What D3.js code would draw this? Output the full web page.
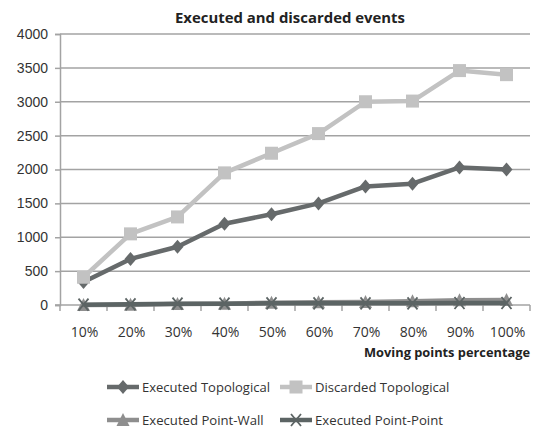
<!DOCTYPE html>
<html>
<head>
<meta charset="utf-8">
<script src="https://cdn.jsdelivr.net/npm/d3@7"></script>
<style>
  body { margin: 0; background: #fff; }
  svg { display: block; font-family: "Open Sans", sans-serif; }
</style>
</head>
<body>
<svg id="chart" width="539" height="428"></svg>
<script>
// data
const categories = ["10%", "20%", "30%", "40%", "50%", "60%", "70%", "80%", "90%", "100%"];
const executedTopological = [340, 680, 860, 1200, 1340, 1500, 1750, 1790, 2030, 2000];
const discardedTopological = [410, 1050, 1300, 1950, 2240, 2530, 3000, 3010, 3460, 3400];
const executedPointWall = [0, 5, 15, 20, 35, 40, 45, 55, 70, 75];
const executedPointPoint = [5, 10, 20, 20, 25, 25, 25, 25, 30, 30];
const yTicks = [0, 500, 1000, 1500, 2000, 2500, 3000, 3500, 4000];

const series = [
    {name: "Executed Topological", values: executedTopological, color: "#666a6b", symbol: "diamond"},
    {name: "Discarded Topological", values: discardedTopological, color: "#c2c2c2", symbol: "square"},
    {name: "Executed Point-Wall", values: executedPointWall, color: "#8e8e8e", symbol: "triangle"},
    {name: "Executed Point-Point", values: executedPointPoint, color: "#5c6464", symbol: "cross"}
];

const svg = d3.select("#chart");
const plotLeft = 60, plotRight = 530, plotTop = 34, plotBottom = 305;

const x = d3.scaleBand().domain(categories).range([plotLeft, plotRight]);
const y = d3.scaleLinear().domain([0, 4000]).range([plotBottom, plotTop]);
const cx = d => x(d) + x.bandwidth() / 2;

// gridlines
svg.append("g")
    .selectAll("line")
    .data(yTicks.filter(t => t > 0))
    .join("line")
    .attr("x1", plotLeft).attr("x2", plotRight)
    .attr("y1", d => y(d)).attr("y2", d => y(d))
    .attr("stroke", "#a3a3a3")
    .attr("stroke-width", 1.5);

// y axis
const yAxis = svg.append("g")
    .attr("transform", `translate(${plotLeft},0)`)
    .call(d3.axisLeft(y).tickValues(yTicks).tickFormat(d3.format("d")).tickSize(5).tickPadding(7));
yAxis.select(".domain").attr("stroke", "#a3a3a3").attr("stroke-width", 1.5);
yAxis.selectAll(".tick line").attr("stroke", "#a3a3a3").attr("stroke-width", 1.5);
yAxis.selectAll("text").style("font-size", "14px").attr("fill", "#333");

// x axis: ticks between categories
const xAxis = svg.append("g").attr("transform", `translate(0,${plotBottom})`);
xAxis.append("line")
    .attr("x1", plotLeft - 5).attr("x2", plotRight)
    .attr("stroke", "#a3a3a3").attr("stroke-width", 1.5);
xAxis.selectAll(".xt")
    .data(categories.map(c => x(c)).concat([plotRight]))
    .join("line")
    .attr("class", "xt")
    .attr("x1", d => d).attr("x2", d => d)
    .attr("y1", 0).attr("y2", 6)
    .attr("stroke", "#a3a3a3").attr("stroke-width", 1.5);
xAxis.selectAll("text")
    .data(categories)
    .join("text")
    .attr("x", d => cx(d) + 1)
    .attr("y", 32)
    .attr("text-anchor", "middle")
    .style("font-size", "14px")
    .attr("fill", "#333")
    .text(d => d);

// title and axis title
svg.append("text")
    .attr("x", 290).attr("y", 23)
    .attr("text-anchor", "middle")
    .style("font-size", "15px").style("font-weight", "bold")
    .attr("fill", "#222")
    .attr("textLength", 230).attr("lengthAdjust", "spacingAndGlyphs")
    .text("Executed and discarded events");

svg.append("text")
    .attr("x", 530).attr("y", 357)
    .attr("text-anchor", "end")
    .style("font-size", "13px").style("font-weight", "bold")
    .attr("fill", "#222")
    .attr("textLength", 166).attr("lengthAdjust", "spacingAndGlyphs")
    .text("Moving points percentage");

// marker drawing
function marker(g, symbol, color, px, py) {
    if (symbol === "diamond") {
        g.append("path").attr("d", `M${px},${py - 7}L${px + 6},${py}L${px},${py + 7}L${px - 6},${py}Z`).attr("fill", color);
    } else if (symbol === "square") {
        g.append("rect").attr("x", px - 6.5).attr("y", py - 6.5).attr("width", 13).attr("height", 13).attr("fill", color);
    } else if (symbol === "triangle") {
        g.append("path").attr("d", `M${px},${py - 7}L${px + 6.5},${py + 6}L${px - 6.5},${py + 6}Z`).attr("fill", color);
    } else {
        g.append("path").attr("d", `M${px - 5},${py - 6}L${px + 5},${py + 6}M${px + 5},${py - 6}L${px - 5},${py + 6}`)
            .attr("stroke", color).attr("stroke-width", 1.8).attr("fill", "none");
    }
}

const line = d3.line().x((d, i) => cx(categories[i])).y(d => y(d));

series.forEach(s => {
    const g = svg.append("g");
    g.append("path")
        .datum(s.values)
        .attr("fill", "none")
        .attr("stroke", s.color)
        .attr("stroke-width", 4.5)
        .attr("stroke-linejoin", "round")
        .attr("d", line);
    s.values.forEach((v, i) => marker(g, s.symbol, s.color, cx(categories[i]), y(v)));
});

// legend
const legendPos = [[107, 387], [280, 387], [107, 420], [280, 420]];
series.forEach((s, i) => {
    const [lx, ly] = legendPos[i];
    const g = svg.append("g");
    g.append("line")
        .attr("x1", lx).attr("x2", lx + 32)
        .attr("y1", ly).attr("y2", ly)
        .attr("stroke", s.color).attr("stroke-width", 4.5);
    marker(g, s.symbol, s.color, lx + 16, ly);
    g.append("text")
        .attr("x", lx + 35).attr("y", ly + 5)
        .style("font-size", "13.5px")
        .attr("fill", "#333")
        .attr("textLength", s.name.length * 6.4).attr("lengthAdjust", "spacingAndGlyphs")
        .text(s.name);
});
</script>
</body>
</html>
